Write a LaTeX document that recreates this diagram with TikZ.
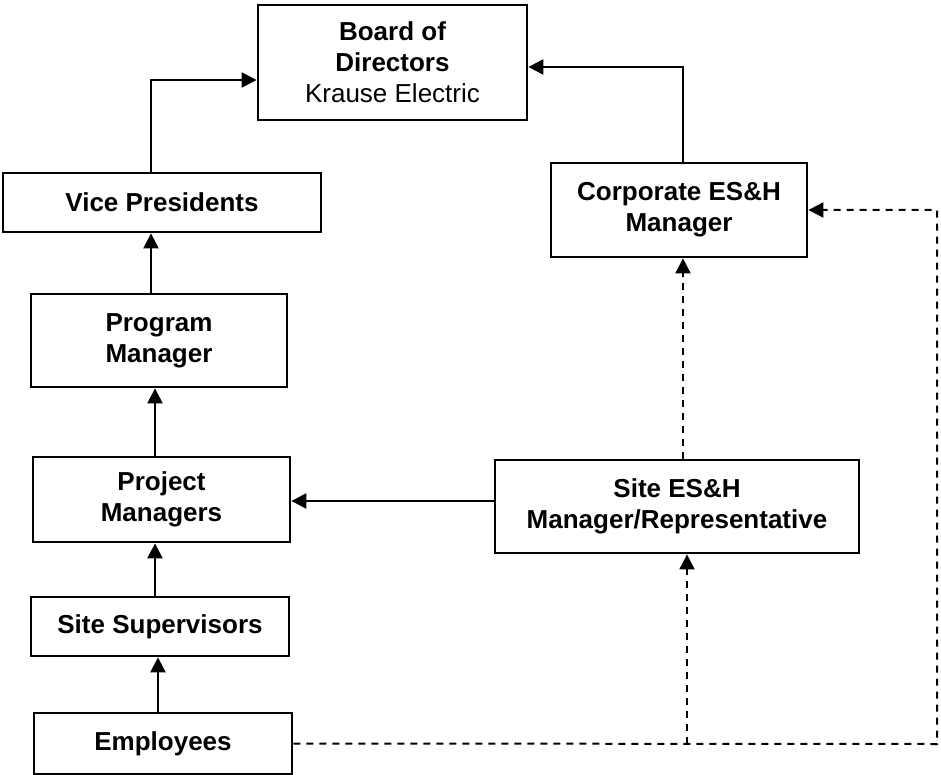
\documentclass[tikz,border=0pt]{standalone}
\usepackage{fontspec}
\setmainfont{Liberation Sans}
\usetikzlibrary{arrows.meta}
\begin{document}
\begin{tikzpicture}[x=1pt,y=-1pt,
  box/.style={draw, line width=2.8pt, inner sep=0pt, align=center,
    font=\fontsize{26}{31}\selectfont\bfseries},
  arr/.style={line width=2.4pt, -{Triangle[length=15pt,width=15pt]}},
  dsh/.style={line width=2pt, dash pattern=on 7pt off 6pt},
  darr/.style={dsh, -{Triangle[length=15pt,width=15pt]}}]
\useasboundingbox (0,0) rectangle (941,775);

% organisation boxes
\node[box, minimum width=269pt, minimum height=115pt] (board) at (392.5,62.5)
  {Board of\\Directors\\\mdseries Krause Electric};
\node[box, minimum width=318pt, minimum height=59pt] (vp) at (162,202.5) {Vice Presidents};
\node[box, minimum width=256pt, minimum height=94pt] (corp) at (679,210) {Corporate ES\&H\\Manager};
\node[box, minimum width=256pt, minimum height=93pt] (prog) at (159,340.5) {Program\\Manager};
\node[box, minimum width=257pt, minimum height=85pt] (proj) at (161.5,499.5) {Project\\Managers};
\node[box, minimum width=364pt, minimum height=93pt] (site) at (677,506.5) {Site ES\&H\\Manager/Representative};
\node[box, minimum width=258pt, minimum height=59pt] (sup) at (160,626.5) {Site Supervisors};
\node[box, minimum width=258pt, minimum height=61pt] (emp) at (163,743.5) {Employees};

% solid reporting lines
\draw[arr] (vp.north -| 151,0) |- (board.west |- 0,80);
\draw[arr] (corp.north -| 683,0) |- (board.east |- 0,67);
\draw[arr] (prog.north -| 151,0) -- (vp.south -| 151,0);
\draw[arr] (proj.north -| 155,0) -- (prog.south -| 155,0);
\draw[arr] (site.west |- 0,501) -- (proj.east |- 0,501);
\draw[arr] (sup.north -| 155,0) -- (proj.south -| 155,0);
\draw[arr] (emp.north -| 158,0) -- (sup.south -| 158,0);

% dashed ES&H lines
\coordinate (tee) at (687,744);
\coordinate (corner) at (937,744);
\draw[darr] (site.north -| 683,0) -- (corp.south -| 683,0);
\draw[darr] (emp.east) -- (corner) |- (corp.east);
\draw[darr] (tee) -- (site.south -| tee);
\end{tikzpicture}
\end{document}
